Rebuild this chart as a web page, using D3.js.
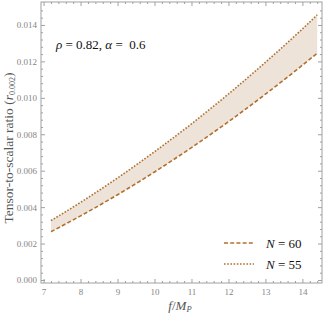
<!DOCTYPE html>
<html>
<head>
<meta charset="utf-8">
<script src="https://cdn.jsdelivr.net/npm/d3@7"></script>
<style>
  body { margin: 0; background: #fff; }
  svg { display: block; }
  text { font-family: "Liberation Serif", "DejaVu Serif", serif; }
</style>
</head>
<body>
<div id="chart"></div>
<script>
// f/M_P sample points and r values
const fVals = [7.2, 8, 9, 10, 11, 12, 13, 14, 14.4];
const rN60 = [0.00265, 0.00352, 0.00468, 0.00593, 0.00727, 0.00869, 0.01020, 0.01179, 0.01245];
const rN55 = [0.00326, 0.00426, 0.00560, 0.00704, 0.00857, 0.01021, 0.01195, 0.01378, 0.01455];
const xTicks = [7, 8, 9, 10, 11, 12, 13, 14];
const yTicks = [0, 0.002, 0.004, 0.006, 0.008, 0.010, 0.012, 0.014];
const legendItems = [
  { label: '60', dash: '4,2.2' },
  { label: '55', dash: '1.6,1.6' }
];

const W = 325, H = 315;
const pL = 41, pR = 322, pT = 2, pB = 283;
const lineCol = '#b0702e';
const serif = '"Liberation Serif", "DejaVu Serif", serif';

const svg = d3.select('#chart').append('svg')
  .attr('width', W)
  .attr('height', H);

const x = d3.scaleLinear().domain([6.93, 14.53]).range([pL, pR]);
const y = d3.scaleLinear().domain([-0.000165, 0.01526]).range([pB, pT]);

const pts = fVals.map((f, i) => ({ f: f, lo: rN60[i], hi: rN55[i] }));

// band between the two curves
svg.append('path')
  .datum(pts)
  .attr('fill', '#eee3d8')
  .attr('d', d3.area()
    .x(d => x(d.f))
    .y0(d => y(d.lo))
    .y1(d => y(d.hi))
    .curve(d3.curveMonotoneX));

const line = key => d3.line().x(d => x(d.f)).y(d => y(d[key])).curve(d3.curveMonotoneX);

svg.append('path').datum(pts)
  .attr('fill', 'none').attr('stroke', lineCol).attr('stroke-width', 1.6)
  .attr('stroke-dasharray', legendItems[0].dash)
  .attr('d', line('lo'));

svg.append('path').datum(pts)
  .attr('fill', 'none').attr('stroke', lineCol).attr('stroke-width', 1.6)
  .attr('stroke-dasharray', legendItems[1].dash)
  .attr('d', line('hi'));

// frame with inward ticks on all sides
const axisCol = '#a0a0a0';
const xMinor = d3.range(7, 14.6, 0.2).filter(v => Math.abs(v - Math.round(v)) > 0.01);
const yMinor = d3.range(0, 0.0152, 0.0004).filter(v => Math.abs(v / 0.002 - Math.round(v / 0.002)) > 0.01);

function ticks(axis, major, minor, len, minLen) {
  const g = svg.append('g').attr('transform', axis.t);
  g.call(axis.a.tickValues(major).tickSize(-len).tickSizeOuter(0).tickFormat(axis.fmt));
  g.select('.domain').remove();
  g.attr('font-family', serif);
  g.selectAll('line').attr('stroke', axisCol);
  g.selectAll('text').attr('fill', '#858585').style('font-size', '9px')
    .style('font-family', serif);
  const g2 = svg.append('g').attr('transform', axis.t);
  g2.call(axis.a.tickValues(minor).tickSize(-minLen).tickFormat(''));
  g2.select('.domain').remove();
  g2.selectAll('line').attr('stroke', axisCol);
  return g;
}

ticks({ a: d3.axisBottom(x), t: `translate(0,${pB})`, fmt: d3.format('d') }, xTicks, xMinor, 4, 2)
  .selectAll('text').attr('dy', '0.95em');
ticks({ a: d3.axisTop(x), t: `translate(0,${pT})`, fmt: () => '' }, xTicks, xMinor, 4, 2);
ticks({ a: d3.axisLeft(y), t: `translate(${pL},0)`, fmt: d3.format('.3f') }, yTicks, yMinor, 4, 2)
  .selectAll('text').attr('dx', '-0.1em');
ticks({ a: d3.axisRight(y), t: `translate(${pR},0)`, fmt: () => '' }, yTicks, yMinor, 4, 2);

svg.append('rect')
  .attr('x', pL).attr('y', pT)
  .attr('width', pR - pL).attr('height', pB - pT)
  .attr('fill', 'none').attr('stroke', axisCol).attr('stroke-width', 1);

// parameter label
const par = svg.append('text').attr('x', 56).attr('y', 49)
  .style('font-size', '13px').style('white-space', 'pre').attr('fill', '#111');
par.append('tspan').style('font-style', 'italic').text('ρ');
par.append('tspan').text(' = 0.82, ');
par.append('tspan').style('font-style', 'italic').text('α');
par.append('tspan').text(' =  0.6');

// legend
const leg = svg.append('g').selectAll('g').data(legendItems).join('g')
  .attr('transform', (d, i) => `translate(224,${243 + i * 21})`);
leg.append('line')
  .attr('x1', 0).attr('x2', 30).attr('y1', 0).attr('y2', 0)
  .attr('stroke', lineCol).attr('stroke-width', 1.6)
  .attr('stroke-dasharray', d => d.dash);
const lt = leg.append('text').attr('x', 42).attr('y', 4.5)
  .style('font-size', '13px').attr('fill', '#111');
lt.append('tspan').style('font-style', 'italic').text('N');
lt.append('tspan').text(d => ' = ' + d.label);

// axis titles
const yl = svg.append('text')
  .attr('transform', `translate(13,148) rotate(-90)`)
  .attr('text-anchor', 'middle')
  .style('font-size', '13.5px').attr('fill', '#555');
yl.append('tspan').text('Tensor-to-scalar ratio (');
yl.append('tspan').style('font-style', 'italic').text('r');
yl.append('tspan').attr('dy', 2).style('font-size', '8px').text('0.002');
yl.append('tspan').attr('dy', -2).text(')');

const xl = svg.append('text')
  .attr('x', 180).attr('y', 310)
  .attr('text-anchor', 'middle')
  .style('font-size', '13px').attr('fill', '#555');
xl.append('tspan').style('font-style', 'italic').text('f');
xl.append('tspan').text('/');
xl.append('tspan').style('font-style', 'italic').text('M');
xl.append('tspan').attr('dy', 2).style('font-size', '8.5px').style('font-style', 'italic').text('P');
</script>
</body>
</html>
